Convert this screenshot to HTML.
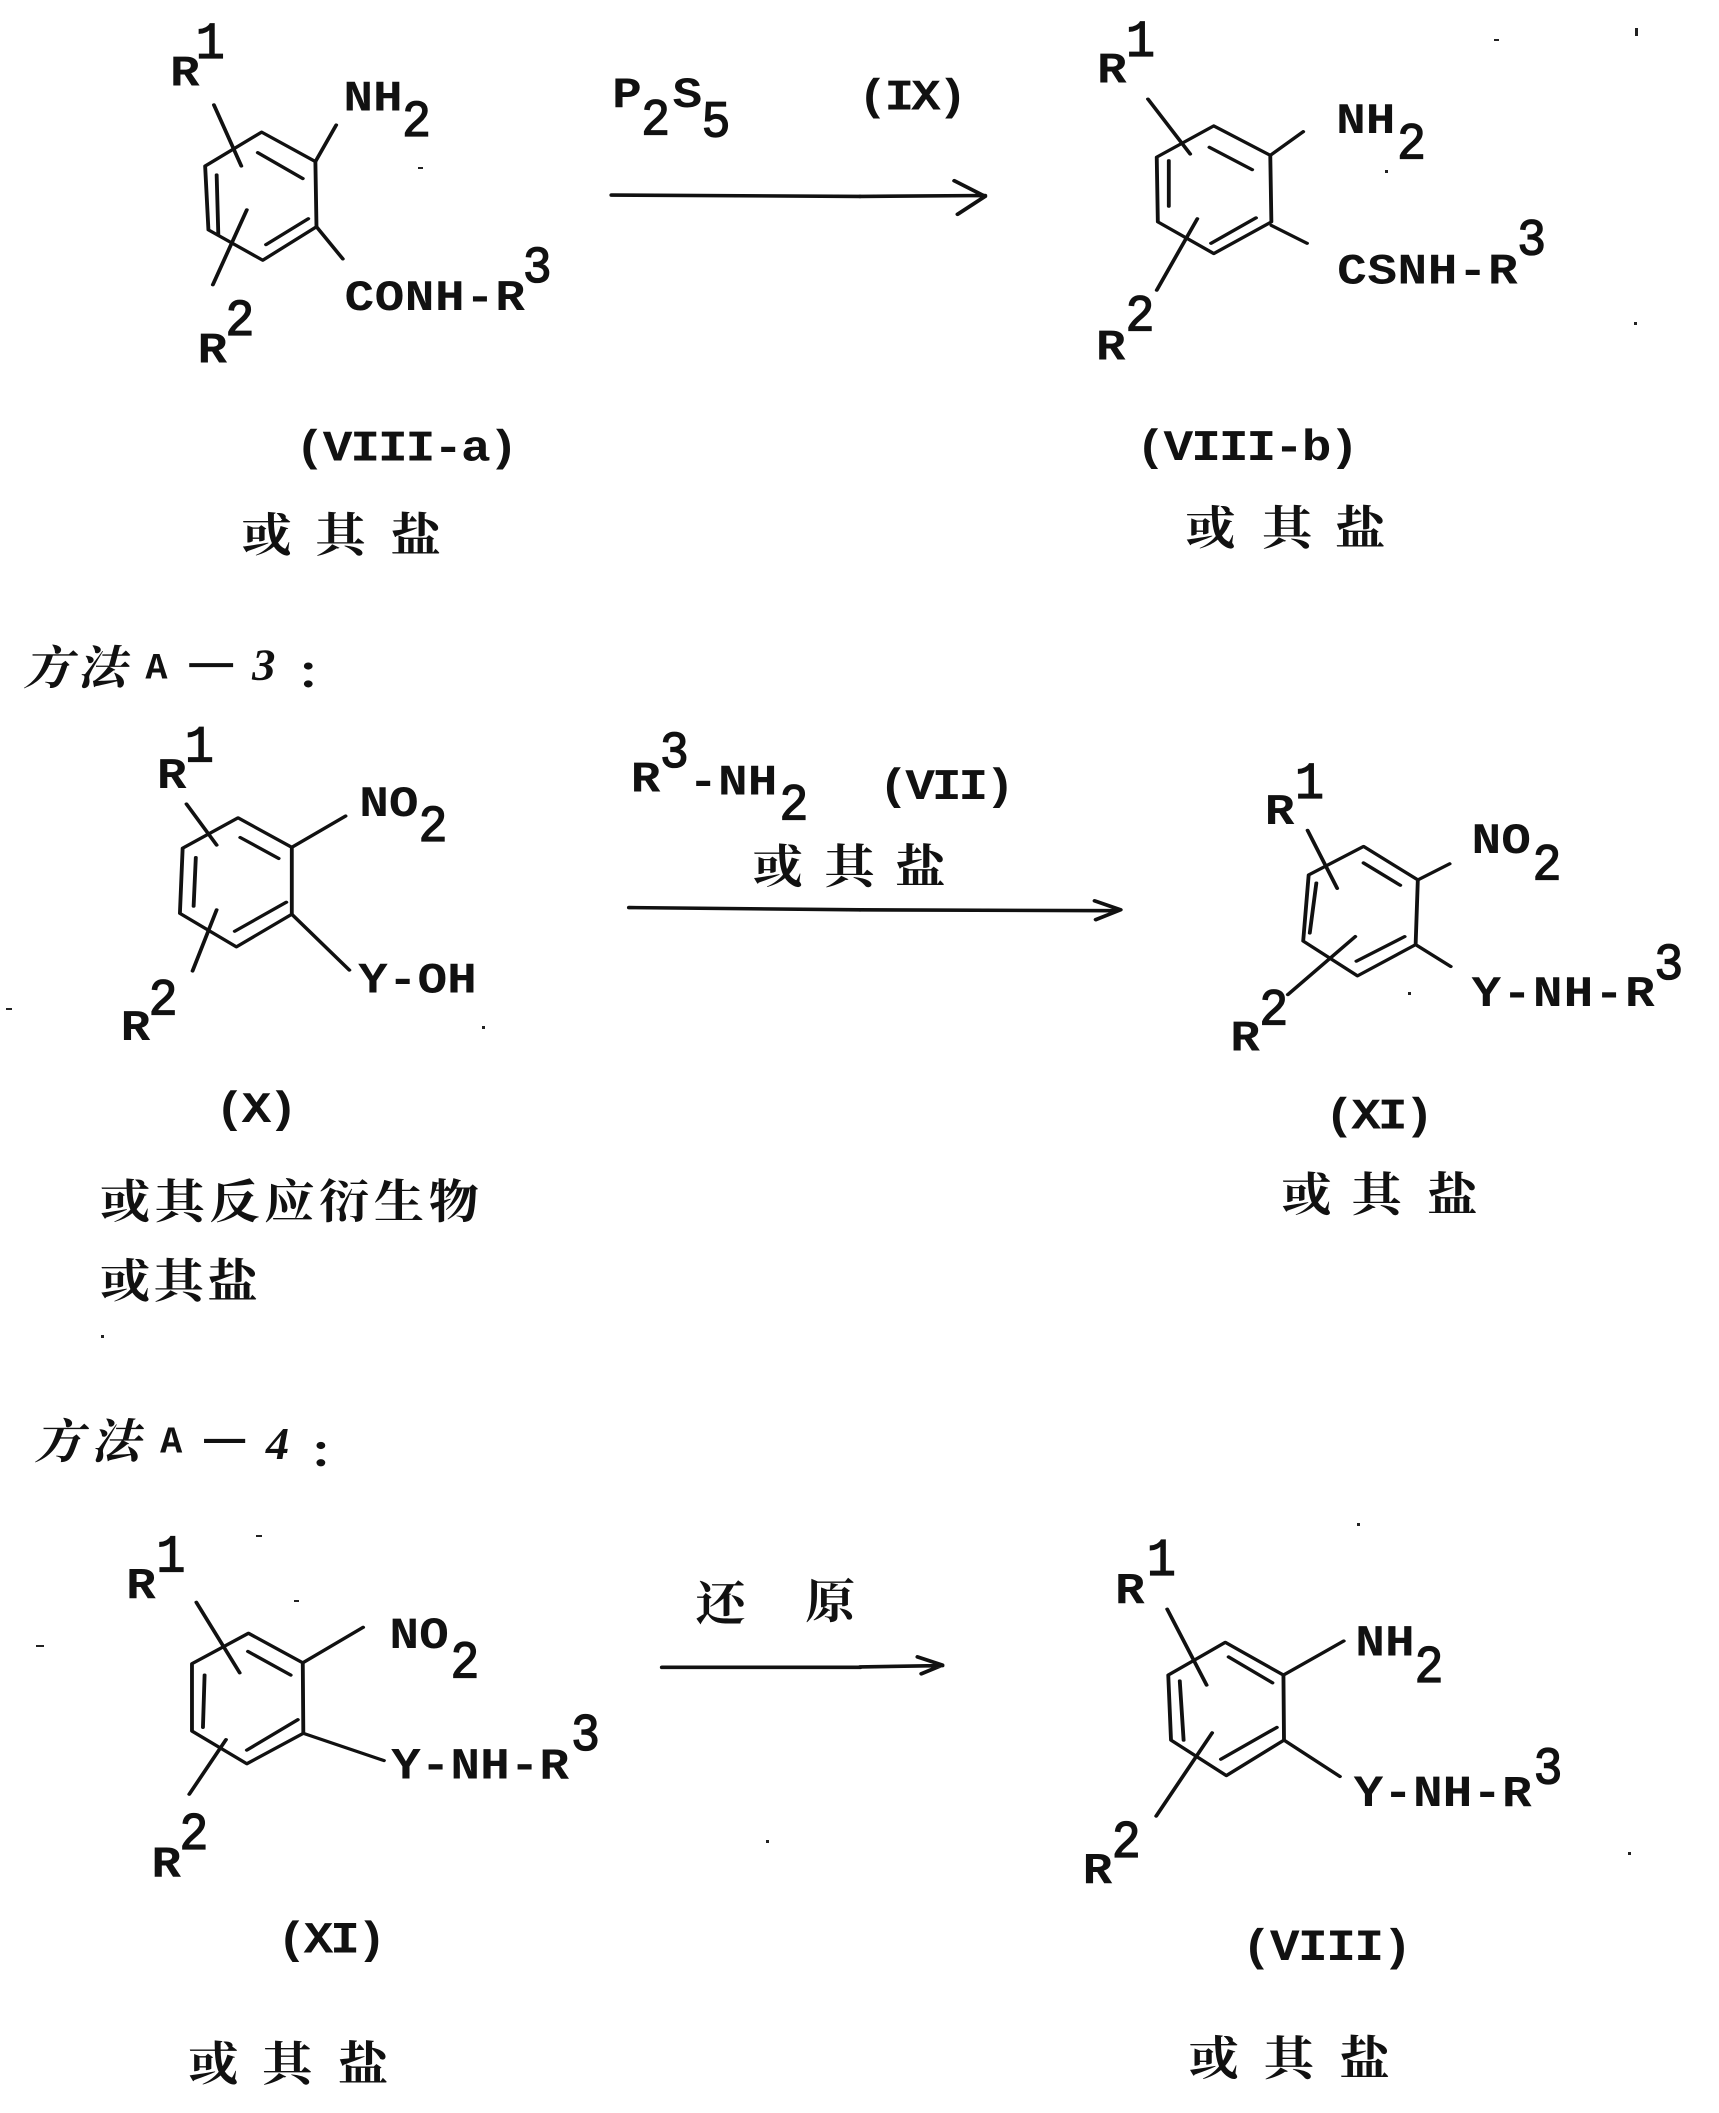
<!DOCTYPE html>
<html><head><meta charset="utf-8"><style>
html,body{margin:0;padding:0;background:#fff;overflow:hidden}
svg{display:block}
.l{fill:none;stroke:#111;stroke-width:7;stroke-linecap:round;stroke-linejoin:round}
.a{fill:none;stroke:#111;stroke-width:8;stroke-linecap:round;stroke-linejoin:round}
text{fill:#111}
.t,.d,.c,.i,.n,.A{transform-box:fill-box;transform-origin:0 100%}
.t{font:bold 98px "Liberation Mono",monospace;transform:scaleX(.92)}
.d{font:400 116px "Liberation Mono",monospace;stroke:#111;stroke-width:3;transform:scaleX(.76)}
.c{font:700 104px "Noto Serif CJK SC","Liberation Serif",serif;transform:scaleX(.88)}
.i{font:700 104px "Noto Serif CJK SC","Liberation Serif",serif;font-style:italic;transform:scaleX(.86)}
.n{font:italic bold 100px "Liberation Serif",serif;transform:scaleX(.85)}
.A{font:bold 84px "Liberation Mono",monospace;transform:scaleX(.8)}
</style></head><body>
<svg width="1719" height="2113" viewBox="0 0 1719 2113" xmlns="http://www.w3.org/2000/svg">
<rect width="1719" height="2113" fill="#fff"/>
<!-- A -->
<g transform="translate(0,0) scale(.5485,.4464)">
<polygon class="l" points="477,296 575,362 577,508 479,583 380,515 374,372"/>
<path class="l" d="M470,342L552,400M485,548L562,490M395,392L398,525M390,235L440,372M450,470L388,638M575,362L613,280M577,508L625,580"/>
<path class="a" d="M1115,437L1568,440"/>
<text class="t" x="310" y="192">R</text><text class="d" x="357" y="130">1</text>
<text class="t" x="626" y="248">NH</text><text class="d" x="733" y="305">2</text>
<text class="t" x="1116" y="240">P</text><text class="d" x="1169" y="301">2</text>
<text class="t" x="1226" y="240">S</text><text class="d" x="1279" y="306">5</text>
<text class="t" x="628" y="695" letter-spacing="1">CONH-R</text><text class="d" x="953" y="632">3</text>
<text class="t" x="360" y="812">R</text><text class="d" x="411" y="750">2</text>
<text class="t" x="538" y="1032" letter-spacing="-4">(VIII-a)</text>
<text class="c" x="440" y="1235">或</text><text class="c" x="575" y="1235">其</text><text class="c" x="712" y="1235">盐</text>
<text class="i" x="42" y="1532">方</text><text class="i" x="140" y="1532">法</text>
<text class="A" x="265" y="1520">A</text><path d="M345,1490H425" stroke="#111" stroke-width="9"/>
<text class="n" x="460" y="1522">3</text>
<circle cx="562" cy="1492" r="8" fill="#111"/><circle cx="562" cy="1532" r="8" fill="#111"/>
</g>
<!-- B -->
<g transform="translate(860,0) scale(.5485,.4464)">
<polygon class="l" points="645,282 748,348 750,497 645,568 543,497 541,352"/>
<path class="l" d="M637,330L715,380M640,545L722,488M563,360L563,462M525,222L602,345M615,490L541,650M748,348L808,295M750,505L815,545"/>
<path class="a" d="M0,440L228,438M172,405L228,440L178,480"/>
<text class="t" x="-4" y="245" letter-spacing="-6">(IX)</text>
<text class="t" x="432" y="185">R</text><text class="d" x="485" y="125">1</text>
<text class="t" x="868" y="298">NH</text><text class="d" x="979" y="355">2</text>
<text class="t" x="870" y="635" letter-spacing="1">CSNH-R</text><text class="d" x="1198" y="570">3</text>
<text class="t" x="430" y="805">R</text><text class="d" x="484" y="740">2</text>
<text class="t" x="503" y="1030" letter-spacing="-4">(VIII-b)</text>
<text class="c" x="593" y="1220">或</text><text class="c" x="733" y="1220">其</text><text class="c" x="866" y="1220">盐</text>
</g>
<!-- C -->
<g transform="translate(0,700) scale(.5485,.4464)">
<polygon class="l" points="434,264 532,330 532,480 431,553 328,478 333,332"/>
<path class="l" d="M438,308L508,355M428,518L522,453M357,353L353,462M340,233L395,325M395,470L351,607M532,330L630,260M532,480L637,605"/>
<text class="t" x="286" y="197">R</text><text class="d" x="337" y="138">1</text>
<text class="t" x="655" y="260">NO</text><text class="d" x="763" y="316">2</text>
<text class="t" x="653" y="655">Y-OH</text>
<text class="t" x="220" y="762">R</text><text class="d" x="271" y="705">2</text>
<text class="t" x="392" y="945" letter-spacing="-6">(X)</text>
<text class="c" x="182" y="1160" letter-spacing="9.6">或其反应衍生物</text>
<text class="c" x="182" y="1338" letter-spacing="7.4">或其盐</text>
<text class="t" x="1150" y="205">R</text><text class="d" x="1203" y="150">3</text>
<text class="t" x="1255" y="212">-NH</text><text class="d" x="1421" y="268">2</text>
<text class="c" x="1372" y="410">或</text><text class="c" x="1503" y="410">其</text>
<path class="a" d="M1147,465L1568,470"/>
</g>
<!-- D -->
<g transform="translate(860,700) scale(.5485,.4464)">
<polygon class="l" points="918,328 1017,403 1013,548 907,618 808,540 818,392"/>
<path class="l" d="M918,365L985,415M905,585L993,530M832,410L820,522M816,292L870,422M903,530L780,660M1017,403L1075,367M1013,548L1077,597"/>
<path class="a" d="M0,470L470,472M428,450L475,470L430,492"/>
<text class="t" x="34" y="222" letter-spacing="-6">(VII)</text>
<text class="c" x="64" y="410">盐</text>
<text class="t" x="738" y="278">R</text><text class="d" x="793" y="220">1</text>
<text class="t" x="1115" y="343">NO</text><text class="d" x="1226" y="402">2</text>
<text class="t" x="1115" y="685" letter-spacing="2">Y-NH-R</text><text class="d" x="1448" y="625">3</text>
<text class="t" x="675" y="785">R</text><text class="d" x="728" y="727">2</text>
<text class="t" x="847" y="960" letter-spacing="-6">(XI)</text>
<text class="c" x="768" y="1145">或</text><text class="c" x="896" y="1145">其</text><text class="c" x="1034" y="1145">盐</text>
</g>
<!-- E -->
<g transform="translate(0,1400) scale(.5485,.4547)">
<polygon class="l" points="453,513 552,578 553,733 450,800 350,728 350,580"/>
<path class="l" d="M452,553L530,605M450,770L543,703M373,605L370,720M358,445L437,600M412,747L345,867M552,578L662,500M553,733L700,793"/>
<text class="i" x="62" y="128">方</text><text class="i" x="165" y="128">法</text>
<text class="A" x="292" y="115">A</text><path d="M372,90H447" stroke="#111" stroke-width="9"/>
<text class="n" x="485" y="130">4</text>
<circle cx="585" cy="100" r="8" fill="#111"/><circle cx="585" cy="138" r="8" fill="#111"/>
<text class="t" x="230" y="435">R</text><text class="d" x="285" y="377">1</text>
<text class="t" x="710" y="545">NO</text><text class="d" x="821" y="610">2</text>
<text class="t" x="713" y="832" letter-spacing="0">Y-NH-R</text><text class="d" x="1041" y="770">3</text>
<text class="t" x="276" y="1048">R</text><text class="d" x="327" y="988">2</text>
<text class="t" x="505" y="1215" letter-spacing="-6">(XI)</text>
<text class="c" x="343" y="1497">或</text><text class="c" x="478" y="1497">其</text><text class="c" x="616" y="1497">盐</text>
<text class="c" x="1268" y="484">还</text><text class="c" x="1468" y="479">原</text>
<path class="a" d="M1207,588L1568,588"/>
</g>
<!-- F -->
<g transform="translate(860,1400) scale(.5485,.4547)">
<polygon class="l" points="666,533 772,605 773,748 668,826 567,748 562,605"/>
<path class="l" d="M672,565L752,622M658,790L760,720M583,618L590,748M560,460L632,627M642,732L540,915M772,605L882,530M773,748L875,828"/>
<path class="a" d="M0,587L150,584M105,565L150,583L112,602"/>
<text class="t" x="465" y="447">R</text><text class="d" x="523" y="385">1</text>
<text class="t" x="903" y="562">NH</text><text class="d" x="1011" y="620">2</text>
<text class="t" x="900" y="893" letter-spacing="0">Y-NH-R</text><text class="d" x="1228" y="843">3</text>
<text class="t" x="406" y="1062">R</text><text class="d" x="459" y="1005">2</text>
<text class="t" x="696" y="1232" letter-spacing="-3">(VIII)</text>
<text class="c" x="599" y="1484">或</text><text class="c" x="736" y="1484">其</text><text class="c" x="874" y="1484">盐</text>
</g>
<!-- specks -->
<g fill="#222">
<rect x="418" y="167" width="5" height="2"/><rect x="1385" y="170" width="3" height="3"/><rect x="1494" y="39" width="5" height="2"/><rect x="1634" y="322" width="3" height="3"/>
<rect x="6" y="1008" width="6" height="2"/><rect x="101" y="1335" width="3" height="3"/><rect x="482" y="1026" width="3" height="3"/><rect x="36" y="1645" width="8" height="2"/>
<rect x="256" y="1535" width="6" height="2"/><rect x="294" y="1600" width="5" height="2"/><rect x="1357" y="1523" width="3" height="3"/><rect x="1628" y="1852" width="3" height="3"/>
<rect x="1635" y="28" width="3" height="8"/><rect x="766" y="1840" width="3" height="3"/><rect x="1408" y="992" width="3" height="3"/>
</g>
</svg>
</body></html>
